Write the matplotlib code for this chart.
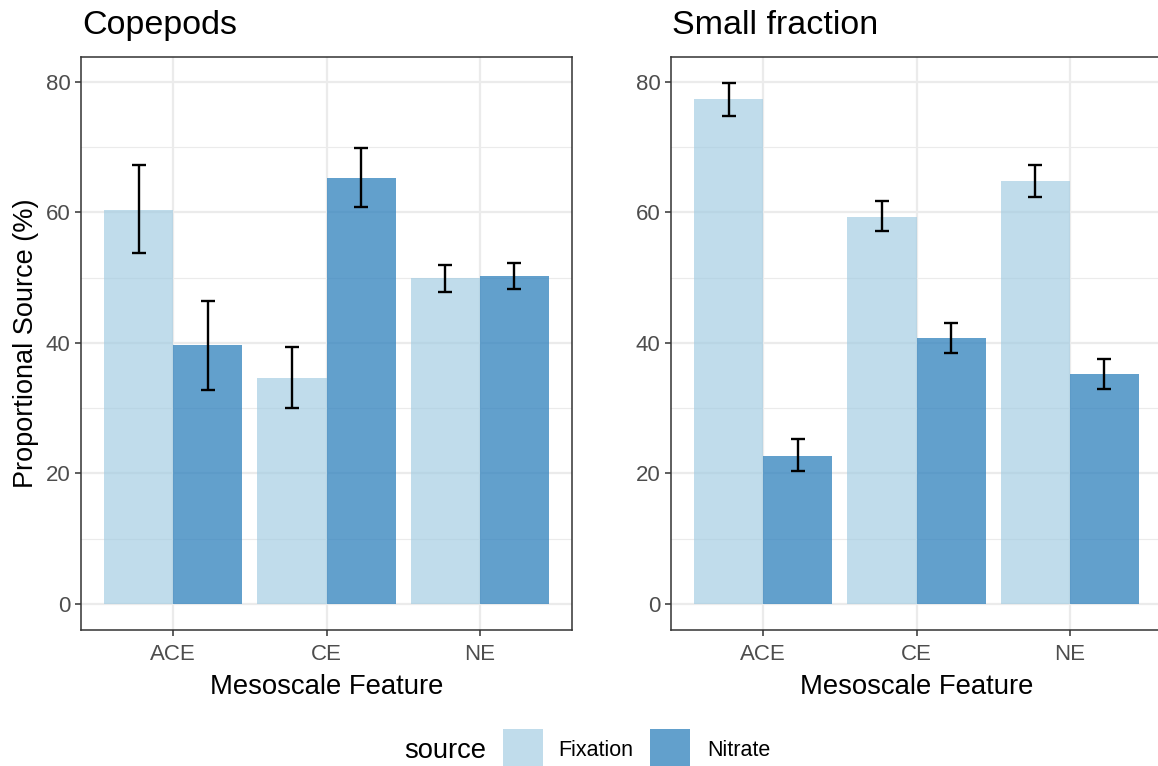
"""Proportional nitrogen source by mesoscale feature, copepods vs small fraction."""

import numpy as np
import matplotlib
matplotlib.use("Agg")
import matplotlib.pyplot as plt
from matplotlib.patches import Rectangle

plt.rcParams['font.family'] = ['Liberation Sans', 'DejaVu Sans']

features = ["ACE", "CE", "NE"]
sources = ["Fixation", "Nitrate"]

# Copepods panel
cop_fix = [60.4, 34.6, 49.9]
cop_fix_lo = [53.8, 30.0, 47.8]
cop_fix_hi = [67.2, 39.4, 51.9]
cop_nit = [39.6, 65.3, 50.2]
cop_nit_lo = [32.8, 60.8, 48.2]
cop_nit_hi = [46.4, 69.9, 52.3]

# Small fraction panel
sf_fix = [77.4, 59.3, 64.8]
sf_fix_lo = [74.8, 57.1, 62.3]
sf_fix_hi = [79.8, 61.7, 67.2]
sf_nit = [22.7, 40.7, 35.2]
sf_nit_lo = [20.3, 38.4, 32.9]
sf_nit_hi = [25.3, 43.0, 37.6]

colors = {"Fixation": "#9ecae1", "Nitrate": "#3182bd"}
alphas = {"Fixation": 0.65, "Nitrate": 0.76}

W, H = 1158, 766
fig = plt.figure(figsize=(W / 100, H / 100), dpi=100)


def px_axes(left, top, right, bottom):
    return fig.add_axes([left / W, 1 - bottom / H, (right - left) / W, (bottom - top) / H])


def draw_panel(ax, title, fix, fix_lo, fix_hi, nit, nit_lo, nit_hi, ylabel=None):
    x = np.arange(len(features))
    width = 0.45
    ax.set_axisbelow(True)
    ax.bar(x - width / 2, fix, width, color=colors["Fixation"], alpha=alphas["Fixation"], linewidth=0)
    ax.bar(x + width / 2, nit, width, color=colors["Nitrate"], alpha=alphas["Nitrate"], linewidth=0)
    for off, val, lo, hi in [(-width / 2, fix, fix_lo, fix_hi), (width / 2, nit, nit_lo, nit_hi)]:
        val = np.array(val)
        err = [val - np.array(lo), np.array(hi) - val]
        ax.errorbar(x + off, val, yerr=err, fmt="none", ecolor="black",
                    elinewidth=1.7, capsize=5.3, capthick=1.7)
    ax.set_xlim(-0.6, 2.6)
    ax.set_ylim(-3.99, 83.8)
    ax.set_xticks(x)
    ax.set_xticklabels(features)
    ax.set_yticks([0, 20, 40, 60, 80])
    ax.set_yticks([10, 30, 50, 70], minor=True)
    ax.grid(True, which="major", color="#ebebeb", linewidth=1.6)
    ax.grid(True, which="minor", axis="y", color="#ebebeb", linewidth=0.8)
    ax.tick_params(axis="both", which="major", labelsize=16, colors="#333333",
                   labelcolor="#4d4d4d", length=4, width=1.1, pad=3.5)
    ax.tick_params(axis="x", which="major", pad=6)
    ax.tick_params(axis="both", which="minor", length=0)
    for s in ax.spines.values():
        s.set_color("#333333")
        s.set_linewidth(1.1)
    ax.set_xlabel("Mesoscale Feature", fontsize=19.8, labelpad=6.5)
    if ylabel:
        ax.set_ylabel(ylabel, fontsize=19.5, labelpad=5)
    ax.text(0.003, 1.04, title, transform=ax.transAxes, fontsize=24.5,
            ha="left", va="baseline")


ax1 = px_axes(81, 57, 572, 630)
draw_panel(ax1, "Copepods", cop_fix, cop_fix_lo, cop_fix_hi,
           cop_nit, cop_nit_lo, cop_nit_hi, ylabel="Proportional Source (%)")
ax2 = px_axes(671, 57, 1162, 630)
draw_panel(ax2, "Small fraction", sf_fix, sf_fix_lo, sf_fix_hi,
           sf_nit, sf_nit_lo, sf_nit_hi)

# legend at the bottom (partly cut off, like the original)
fig.text(404 / W, 1 - 751 / H, "source", fontsize=19.7, ha="left", va="center")
key_x = {"Fixation": 503, "Nitrate": 650}
text_x = {"Fixation": 558, "Nitrate": 707}
for src in sources:
    fig.patches.append(Rectangle((key_x[src] / W, 1 - 775 / H), 40 / W, 46 / H,
                                 transform=fig.transFigure, facecolor=colors[src],
                                 alpha=alphas[src], linewidth=0))
    fig.text(text_x[src] / W, 1 - 751 / H, src, fontsize=15.5, ha="left", va="center")

fig.savefig("out.png", dpi=100)
